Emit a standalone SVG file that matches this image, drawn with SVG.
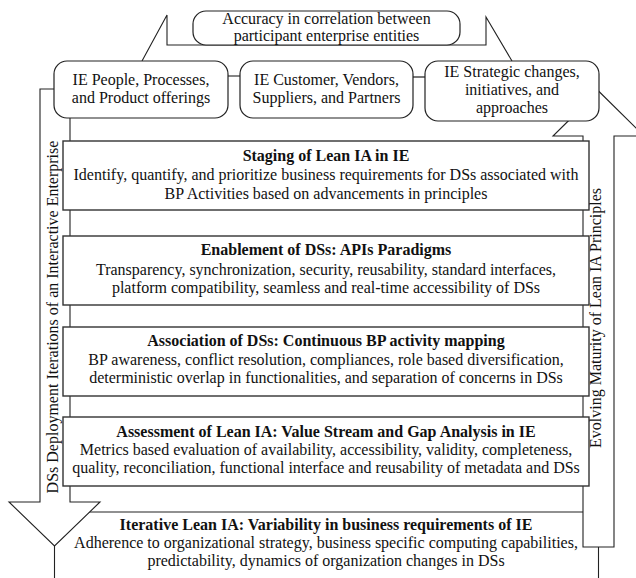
<svg xmlns="http://www.w3.org/2000/svg" width="636" height="578" viewBox="0 0 636 578">
<style>
text{font-family:"Liberation Serif","Times New Roman",serif;fill:#111;font-size:16px}
.b{font-weight:bold}
.m{text-anchor:middle}
.rt{font-size:16px;text-anchor:middle}
.ln{fill:none;stroke:#222;stroke-width:1.1}
.ar{fill:#fff;stroke:#222;stroke-width:1.1}
.rb{fill:#fff;stroke:#222;stroke-width:1.2}
.st{fill:#fff;stroke:#333;stroke-width:1.4}
</style>
<rect width="636" height="578" fill="#fff"/>
<g id="connectors">
<polyline class="ln" points="142,61 167,15 167,45 486,45 486,17 512,61"/>
<line class="ln" x1="228" y1="76" x2="240" y2="76"/>
<line x1="413" y1="77" x2="425" y2="77" stroke="#555" stroke-width="1.6"/>
<line class="ln" x1="54.5" y1="546" x2="54.5" y2="578"/>
<line class="ln" x1="598.5" y1="547" x2="598.5" y2="578"/>
</g>
<g id="top-node">
<rect class="rb" x="193" y="11" width="267" height="34" rx="13"/>
<text class="m" x="326.5" y="24">Accuracy in correlation between</text>
<text class="m" x="326.5" y="41">participant enterprise entities</text>
</g>
<g id="arrow-up">
<polygon class="ar" points="598.5,91 644,136 614,136 614,547 583,547 583,136 553,136"/>
<text class="rt" transform="translate(601,318) rotate(-90)">Evolving Maturity of Lean IA Principles</text>
</g>
<g id="iterative">
<line class="ln" x1="80" y1="512" x2="583" y2="512"/>
<text class="m b" x="326" y="530">Iterative Lean IA: Variability in business requirements of IE</text>
<text class="m" x="326" y="548">Adherence to organizational strategy, business specific computing capabilities,</text>
<text class="m" x="326" y="566">predictability, dynamics of organization changes in DSs</text>
</g>
<g id="arrow-down">
<polygon class="ar" points="40,89 70,89 70,502 100,502 54.5,546 9,502 40,502"/>
<text class="rt" transform="translate(58,317) rotate(-90)">DSs Deployment Iterations of an Interactive Enterprise</text>
</g>
<g id="ie-people">
<rect class="rb" x="54" y="61" width="174" height="57" rx="13"/>
<text class="m" x="141" y="85">IE People, Processes,</text>
<text class="m" x="141" y="103">and Product offerings</text>
</g>
<g id="ie-customer">
<rect class="rb" x="240" y="61" width="173" height="57" rx="13"/>
<text class="m" x="326.5" y="85">IE Customer, Vendors,</text>
<text class="m" x="326.5" y="103">Suppliers, and Partners</text>
</g>
<g id="ie-strategic">
<rect class="rb" x="425" y="61" width="174" height="60" rx="13"/>
<text class="m" x="512" y="77">IE Strategic changes,</text>
<text class="m" x="512" y="95">initiatives, and</text>
<text class="m" x="512" y="113">approaches</text>
</g>
<g id="staging">
<rect class="st" x="63" y="141" width="526" height="69"/>
<text class="m b" x="326" y="161">Staging of Lean IA in IE</text>
<text class="m" x="326" y="180">Identify, quantify, and prioritize business requirements for DSs associated with</text>
<text class="m" x="326" y="199">BP Activities based on advancements in principles</text>
</g>
<g id="enablement">
<rect class="st" x="63" y="236" width="526" height="69"/>
<text class="m b" x="326" y="255">Enablement of DSs: APIs Paradigms</text>
<text class="m" x="326" y="275">Transparency, synchronization, security, reusability, standard interfaces,</text>
<text class="m" x="326" y="293">platform compatibility, seamless and real-time accessibility of DSs</text>
</g>
<g id="association">
<rect class="st" x="63" y="327" width="526" height="69"/>
<text class="m b" x="326" y="346">Association of DSs: Continuous BP activity mapping</text>
<text class="m" x="326" y="365">BP awareness, conflict resolution, compliances, role based diversification,</text>
<text class="m" x="326" y="383">deterministic overlap in functionalities, and separation of concerns in DSs</text>
</g>
<g id="assessment">
<rect class="st" x="63" y="417" width="526" height="69"/>
<text class="m b" x="326" y="437">Assessment of Lean IA: Value Stream and Gap Analysis in IE</text>
<text class="m" x="326" y="455">Metrics based evaluation of availability, accessibility, validity, completeness,</text>
<text class="m" x="326" y="473">quality, reconciliation, functional interface and reusability of metadata and DSs</text>
</g>
</svg>
